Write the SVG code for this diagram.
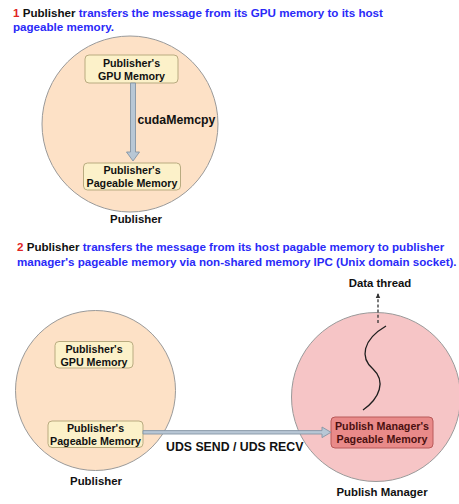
<svg xmlns="http://www.w3.org/2000/svg" width="459" height="504" viewBox="0 0 459 504">
  <defs>
    <style>
      text { font-family: "Liberation Sans", Arial, sans-serif; font-weight: bold; }
      .title { font-size: 11.6px; fill: #2a2af8; }
      .num { fill: #e02424; }
      .who { fill: #111111; }
      .proc-pub { fill: #fde1c6; stroke: #9a9a9a; stroke-width: 1; }
      .proc-mgr { fill: #f6c5c6; stroke: #9a9a9a; stroke-width: 1; }
      .mem { fill: #fcf1c9; stroke: #b9ab80; stroke-width: 1; }
      .mem-mgr { fill: #e98a89; stroke: #b85a5a; stroke-width: 1; }
      .memtxt { font-size: 10.7px; fill: #111111; text-anchor: middle; }
      .memtxt-mgr { font-size: 10.7px; fill: #4a1010; text-anchor: middle; }
      .label { font-size: 11.4px; fill: #111111; text-anchor: middle; }
      .edge-label { font-size: 12.3px; fill: #111111; }
      .copy { fill: #b8c7d5; stroke: #8494a4; stroke-width: 0.9; stroke-linejoin: miter; }
    </style>
    <marker id="tip" viewBox="0 0 10 10" refX="9" refY="5" markerWidth="6" markerHeight="6" orient="auto" markerUnits="userSpaceOnUse">
      <path d="M0,1 L9,5 L0,9 Z" fill="#333333"/>
    </marker>
  </defs>

  <!-- step 1 heading -->
  <text class="title" x="13" y="17"><tspan class="num">1</tspan> <tspan class="who">Publisher</tspan> transfers the message from its GPU memory to its host</text>
  <text class="title" x="13" y="31">pageable memory.</text>

  <!-- step 1: publisher process -->
  <g id="publisher-1">
    <circle class="proc-pub" cx="130" cy="124" r="88"/>
    <text class="label" x="136" y="223">Publisher</text>
  </g>
  <g id="gpu-mem-1">
    <rect class="mem" x="85" y="55" width="93" height="28" rx="4"/>
    <text class="memtxt" x="131.5" y="66.5">Publisher's</text>
    <text class="memtxt" x="131.5" y="79.5">GPU Memory</text>
  </g>
  <g id="pageable-mem-1">
    <rect class="mem" x="83.5" y="163" width="97" height="27" rx="4"/>
    <text class="memtxt" x="132" y="174">Publisher's</text>
    <text class="memtxt" x="132" y="187">Pageable Memory</text>
  </g>

  <!-- step 2 heading -->
  <text class="title" x="17" y="251"><tspan class="num">2</tspan> <tspan class="who">Publisher</tspan> transfers the message from its host pagable memory to publisher</text>
  <text class="title" x="17" y="266">manager's pageable memory via non-shared memory IPC (Unix domain socket).</text>

  <!-- step 2: publisher process -->
  <g id="publisher-2">
    <circle class="proc-pub" cx="95.5" cy="390.5" r="80"/>
    <text class="label" x="96" y="485">Publisher</text>
  </g>
  <g id="gpu-mem-2">
    <rect class="mem" x="55" y="341.5" width="78" height="26.5" rx="4"/>
    <text class="memtxt" x="94" y="352.5">Publisher's</text>
    <text class="memtxt" x="94" y="365.5">GPU Memory</text>
  </g>
  <g id="pageable-mem-2">
    <rect class="mem" x="48" y="421" width="95" height="26.5" rx="4"/>
    <text class="memtxt" x="95.5" y="431.5">Publisher's</text>
    <text class="memtxt" x="95.5" y="444.5">Pageable Memory</text>
  </g>

  <!-- step 2: publish manager process -->
  <g id="publish-manager">
    <circle class="proc-mgr" cx="376" cy="397" r="84.5"/>
    <text class="label" x="382" y="496">Publish Manager</text>
  </g>
  <g id="manager-pageable-mem">
    <rect class="mem-mgr" x="331" y="417" width="102" height="31" rx="4"/>
    <text class="memtxt-mgr" x="382" y="430">Publish Manager's</text>
    <text class="memtxt-mgr" x="382" y="443">Pageable Memory</text>
  </g>
  <g id="data-thread">
    <text class="label" x="380" y="287">Data thread</text>
  </g>

  <!-- connectors -->
  <g id="connectors">
    <polygon class="copy" points="130.5,83 135.5,83 135.5,152 139.5,152 133,161 126.5,152 130.5,152"/>
    <text class="edge-label" x="137.5" y="124">cudaMemcpy</text>

    <polygon class="copy" points="143,430.6 322,430.6 322,427 331,432.3 322,437.6 322,434 143,434"/>
    <text class="edge-label" x="166" y="451">UDS SEND / UDS RECV</text>

    <line x1="378" y1="323" x2="378" y2="293" stroke="#333333" stroke-width="1.3" stroke-dasharray="3,2.2" marker-end="url(#tip)"/>
    <path d="M386,326 C362,340 360,358 373,369 C386,381 380,398 363,410" fill="none" stroke="#1e1e1e" stroke-width="1.3"/>
  </g>
</svg>
